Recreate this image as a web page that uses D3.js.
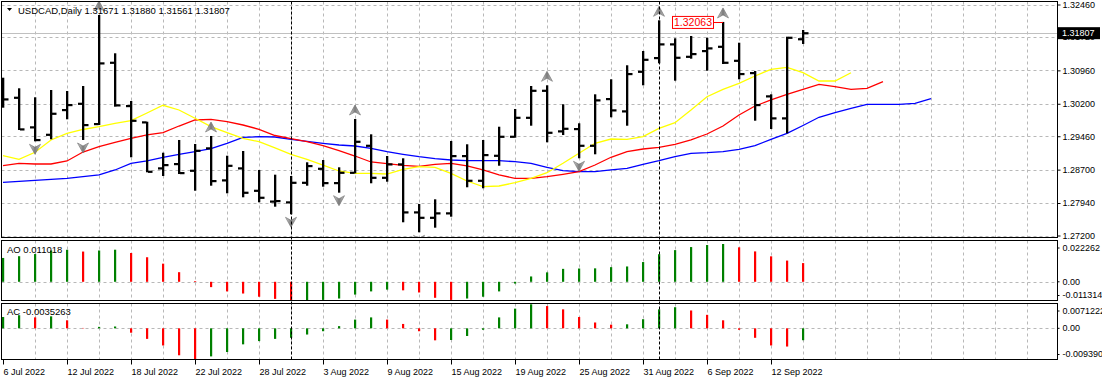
<!DOCTYPE html>
<html><head><meta charset="utf-8">
<script src="https://cdn.jsdelivr.net/npm/d3@7"></script>
<style>
body{margin:0;background:#fff;}
svg{display:block;}
text{font-family:'Liberation Sans',Arial,sans-serif;font-size:9.5px;fill:#000;}
.ax text{font-size:9px;}
</style>
</head><body>
<svg id="c" width="1102" height="381"></svg>
<script>
// ---------- DATA ----------
const symbolTitle = "USDCAD,Daily";
const dates = ["2022-07-06","2022-07-07","2022-07-08","2022-07-11","2022-07-12","2022-07-13","2022-07-14","2022-07-15","2022-07-18","2022-07-19","2022-07-20","2022-07-21","2022-07-22","2022-07-25","2022-07-26","2022-07-27","2022-07-28","2022-07-29","2022-08-01","2022-08-02","2022-08-03","2022-08-04","2022-08-05","2022-08-08","2022-08-09","2022-08-10","2022-08-11","2022-08-12","2022-08-15","2022-08-16","2022-08-17","2022-08-18","2022-08-19","2022-08-22","2022-08-23","2022-08-24","2022-08-25","2022-08-26","2022-08-29","2022-08-30","2022-08-31","2022-09-01","2022-09-02","2022-09-05","2022-09-06","2022-09-07","2022-09-08","2022-09-09","2022-09-12","2022-09-13","2022-09-14"];
const open  = [1.30559,1.30338,1.29664,1.29495,1.30058,1.30201,1.29739,1.31135,1.30149,1.29778,1.28730,1.28828,1.28676,1.29186,1.28457,1.28730,1.28220,1.27974,1.27956,1.28402,1.28721,1.28395,1.28630,1.29245,1.28516,1.28821,1.27728,1.27605,1.27706,1.29010,1.28448,1.29017,1.29450,1.29882,1.30497,1.29573,1.29625,1.29245,1.30308,1.30028,1.30930,1.31242,1.31554,1.31271,1.31401,1.31499,1.31180,1.30900,1.30370,1.29869,1.31671];
const high  = [1.30793,1.30552,1.30347,1.30513,1.30490,1.30604,1.32221,1.31349,1.30263,1.29791,1.29085,1.29375,1.29284,1.29466,1.29017,1.29124,1.28692,1.28585,1.28555,1.28867,1.28919,1.28753,1.29853,1.29504,1.29010,1.28958,1.27917,1.28024,1.29352,1.29277,1.29375,1.29677,1.30081,1.30604,1.30620,1.30188,1.29755,1.30415,1.30757,1.31076,1.31401,1.32100,1.31690,1.31743,1.31704,1.32063,1.31590,1.30946,1.30415,1.31727,1.31880];
const low   = [1.30110,1.29602,1.29345,1.29391,1.29846,1.29375,1.29716,1.30133,1.28981,1.28639,1.28555,1.28600,1.28220,1.28334,1.28161,1.28070,1.27956,1.27856,1.27683,1.28334,1.28311,1.28175,1.28616,1.28389,1.28425,1.27501,1.27273,1.27378,1.27628,1.28298,1.28275,1.28789,1.29427,1.29700,1.29322,1.29488,1.28958,1.29049,1.29892,1.29700,1.30620,1.31121,1.30725,1.31226,1.30953,1.31105,1.30757,1.29814,1.29625,1.29527,1.31561];
const close = [1.30301,1.29618,1.29375,1.29974,1.30172,1.29716,1.31121,1.30165,1.29814,1.28653,1.28805,1.28623,1.29131,1.28441,1.28789,1.28175,1.28061,1.27986,1.28402,1.28783,1.28395,1.28630,1.29336,1.28516,1.28821,1.27728,1.27605,1.27706,1.29010,1.28448,1.29033,1.29450,1.29882,1.30497,1.29541,1.29632,1.29245,1.30279,1.30051,1.30878,1.31203,1.31554,1.31249,1.31333,1.31463,1.31135,1.30878,1.30172,1.29869,1.31704,1.31807];
// Alligator lines (shifted forward past the last bar)
const lips  = [1.29017,1.28935,1.29095,1.29375,1.29527,1.29614,1.29678,1.29755,1.29814,1.29989,1.30165,1.30058,1.29869,1.29678,1.29541,1.29413,1.29336,1.29193,1.29049,1.28935,1.28805,1.28669,1.28616,1.28616,1.28600,1.28707,1.28767,1.28753,1.28616,1.28441,1.28311,1.28327,1.28402,1.28503,1.28630,1.28844,1.29072,1.29300,1.29397,1.29391,1.29450,1.29641,1.29769,1.30058,1.30361,1.30529,1.30666,1.30832,1.30985,1.31030,1.30907,1.30718,1.30718,1.30907];
const teeth = [1.28789,1.28844,1.28828,1.28828,1.28897,1.29101,1.29222,1.29322,1.29413,1.29489,1.29541,1.29693,1.29830,1.29846,1.29791,1.29716,1.29618,1.29477,1.29404,1.29336,1.29245,1.29131,1.29010,1.28874,1.28835,1.28799,1.28776,1.28821,1.28844,1.28783,1.28692,1.28578,1.28503,1.28503,1.28539,1.28594,1.28653,1.28805,1.28981,1.29108,1.29170,1.29208,1.29277,1.29375,1.29511,1.29693,1.29944,1.30149,1.30286,1.30415,1.30529,1.30643,1.30588,1.30529,1.30552,1.30702];
const jaw   = [1.28411,1.28434,1.28457,1.28480,1.28503,1.28539,1.28578,1.28692,1.28844,1.28897,1.28981,1.29049,1.29108,1.29177,1.29300,1.29436,1.29450,1.29443,1.29391,1.29345,1.29300,1.29261,1.29238,1.29186,1.29108,1.29049,1.28994,1.28949,1.28919,1.28903,1.28903,1.28903,1.28881,1.28844,1.28753,1.28676,1.28653,1.28653,1.28692,1.28730,1.28821,1.28903,1.28994,1.29072,1.29085,1.29108,1.29163,1.29245,1.29391,1.29527,1.29705,1.29892,1.29996,1.30096,1.30188,1.30188,1.30188,1.30210,1.30315];
const ao = [0.01404,0.01508,0.01634,0.01844,0.01886,0.01781,0.01844,0.01890,0.01697,0.01446,0.01068,0.00566,0.00042,-0.00314,-0.00566,-0.00691,-0.00880,-0.01006,-0.011314,-0.01089,-0.01068,-0.00985,-0.00754,-0.00566,-0.00461,-0.00503,-0.00629,-0.00943,-0.01068,-0.00985,-0.00880,-0.00566,-0.00105,0.00314,0.00555,0.00762,0.00782,0.00792,0.00863,0.00903,0.01163,0.01625,0.01866,0.02046,0.02166,0.022262,0.02030,0.01790,0.01500,0.01250,0.011018];
const ac = [0.00335,0.00389,0.00324,0.00356,0.00238,0.00011,0.00043,0.00054,-0.00130,-0.00313,-0.00508,-0.00799,-0.00939,-0.00832,-0.00702,-0.00475,-0.00378,-0.00313,-0.00281,-0.00184,-0.00086,0.00065,0.00259,0.00324,0.00259,0.00130,-0.00086,-0.00356,-0.00346,-0.00227,-0.00043,0.00324,0.00583,0.0071222,0.00660,0.00562,0.00335,0.00173,0.00108,0.00119,0.00270,0.00562,0.00626,0.00529,0.00400,0.00238,-0.00043,-0.00281,-0.00508,-0.00540,-0.0035263];
const fractalUp = [6,13,22,34,41,45];
const fractalDown = [2,5,18,21,26,36];
const priceTicks = [1.32460,1.31720,1.30960,1.30200,1.29460,1.28700,1.27940,1.27200];
const aoTicks = [0.022262,0,-0.011314];
const aoTickLabels = ["0.022262","0.00","-0.011314"];
const acTicks = [0.0071222,0,-0.009390];
const acTickLabels = ["0.0071222","0.00","-0.009390"];
const dateTickIdx = [0,4,8,12,16,20,24,28,32,36,40,44,48];
const dateTickLabels = ["6 Jul 2022","12 Jul 2022","18 Jul 2022","22 Jul 2022","28 Jul 2022","3 Aug 2022","9 Aug 2022","15 Aug 2022","19 Aug 2022","25 Aug 2022","31 Aug 2022","6 Sep 2022","12 Sep 2022"];
const markedHighIdx = 45;          // bar carrying the "1.32063" price label
const separatorIdx = [18,41];      // month separators (1 Aug, 1 Sep)

// ---------- LAYOUT ----------
const svg = d3.select('#c');
const L = 1.5, R = 1057.5;
const P = {main:[1.5,237.5], ao:[240.5,300.5], ac:[303.5,359.5]};
const x = d3.scaleLinear().domain([0,50]).range([3,803]);
const y = d3.scaleLinear().domain([1.27200,1.32460]).range([235.5,4.5]);
const yAO = d3.scaleLinear().domain([-0.011314,0.022262]).range([301,244]);
const yAC = d3.scaleLinear().domain([-0.009390,0.0071222]).range([360,304.3]);
const GREEN = '#008000', RED = '#ff0000';

const defs = svg.append('defs');
Object.entries(P).forEach(([k,[t,b]])=>{
  defs.append('clipPath').attr('id','clip-'+k).append('rect')
    .attr('x',L+0.5).attr('y',t+0.5).attr('width',R-L-1).attr('height',b-t-1);
});
const grad = defs.append('linearGradient').attr('id','fg').attr('x1',0).attr('x2',1).attr('y1',0).attr('y2',0);
grad.append('stop').attr('offset','0%').attr('stop-color','#d8d8d8');
grad.append('stop').attr('offset','50%').attr('stop-color','#7a7a7a');
grad.append('stop').attr('offset','100%').attr('stop-color','#c8c8c8');

// grid x positions (every 2 bars)
const gridIdx = d3.range(2, 66, 2).filter(i => x(i) < R - 1);

function panelGrid(key, hLines){
  const [t,b] = P[key];
  const g = svg.append('g').attr('clip-path','url(#clip-'+key+')');
  g.selectAll('line.v').data(gridIdx).join('line')
    .attr('x1',d=>Math.round(x(d))+0.5).attr('x2',d=>Math.round(x(d))+0.5)
    .attr('y1',t).attr('y2',b)
    .attr('stroke','#b8b8b8').attr('stroke-dasharray','3,3');
  g.selectAll('line.h').data(hLines).join('line')
    .attr('x1',L).attr('x2',R)
    .attr('y1',d=>Math.round(d)+0.5).attr('y2',d=>Math.round(d)+0.5)
    .attr('stroke','#b8b8b8').attr('stroke-dasharray','3,3');
  return g;
}
const gMain = panelGrid('main', priceTicks.map(v=>y(v)));
const gAO = panelGrid('ao', [yAO(0)]);
const gAC = panelGrid('ac', [yAC(0)]);

// bid line
gMain.append('line').attr('x1',L).attr('x2',R)
  .attr('y1',Math.round(y(close[50]))+0.5).attr('y2',Math.round(y(close[50]))+0.5)
  .attr('stroke','#c0c0c0');

// month separators
svg.append('g').selectAll('line').data(separatorIdx).join('line')
  .attr('x1',d=>Math.round(x(d))+0.5).attr('x2',d=>Math.round(x(d))+0.5)
  .attr('y1',P.main[0]).attr('y2',P.ac[1])
  .attr('stroke','#000').attr('stroke-dasharray','3,2');

// alligator
const line = d3.line().x((d,i)=>x(i)).y(d=>y(d));
[[jaw,'#0000ff'],[teeth,'#ff0000'],[lips,'#ffff00']].forEach(([arr,col])=>{
  gMain.append('path').datum(arr).attr('d',line)
    .attr('fill','none').attr('stroke',col).attr('stroke-width',1.3);
});

// OHLC bars
const bars = dates.map((d,i)=>({i,o:open[i],h:high[i],l:low[i],c:close[i]}));
const gb = gMain.append('g').attr('fill','#000');
gb.selectAll('rect.v').data(bars).join('rect')
  .attr('x',d=>x(d.i)-1).attr('y',d=>y(d.h)).attr('width',2.3).attr('height',d=>y(d.l)-y(d.h));
gb.selectAll('rect.o').data(bars).join('rect')
  .attr('x',d=>x(d.i)-5).attr('y',d=>y(d.o)-1).attr('width',4.5).attr('height',2.2);
gb.selectAll('rect.c').data(bars).join('rect')
  .attr('x',d=>x(d.i)+1).attr('y',d=>y(d.c)-1).attr('width',4.5).attr('height',2.2);

// fractals
const arrowUp = 'M0,-5 L5.5,5 L0,2 L-5.5,5 Z';
gMain.selectAll('path.fu').data(fractalUp).join('path')
  .attr('d',arrowUp).attr('transform',i=>`translate(${x(i)},${y(high[i])-9})`)
  .attr('fill','url(#fg)').attr('stroke','#6c6c6c').attr('stroke-width',0.6);
gMain.selectAll('path.fd').data(fractalDown).join('path')
  .attr('d',arrowUp).attr('transform',i=>`translate(${x(i)},${y(low[i])+8}) scale(1,-1)`)
  .attr('fill','url(#fg)').attr('stroke','#6c6c6c').attr('stroke-width',0.6);

// high price label
{
  const hx = x(markedHighIdx), hy = y(high[markedHighIdx]);
  const bw = 41, bh = 12, bx = hx - 51;
  gMain.append('line').attr('x1',bx+bw).attr('x2',hx).attr('y1',Math.round(hy)+0.5).attr('y2',Math.round(hy)+0.5).attr('stroke',RED);
  gMain.append('rect').attr('x',bx+0.5).attr('y',hy-5.5).attr('width',bw).attr('height',bh)
    .attr('fill','#fff').attr('stroke',RED);
  gMain.append('text').attr('x',bx+bw/2+0.5).attr('y',hy+0.5).attr('dy','0.35em')
    .attr('text-anchor','middle').style('font-size','10.5px').style('fill',RED)
    .text(high[markedHighIdx].toFixed(5));
}

// header
svg.append('path').attr('d','M7,8 L12,8 L9.5,11 Z').attr('fill','#000');
svg.append('text').attr('x',18).attr('y',14)
  .text(`${symbolTitle}  ${open[50].toFixed(5)} ${high[50].toFixed(5)} ${low[50].toFixed(5)} ${close[50].toFixed(5)}`);

// AO / AC histograms
function hist(g, arr, ys){
  g.selectAll('rect').data(arr).join('rect')
    .attr('x',(d,i)=>x(i)-1).attr('width',2.2)
    .attr('y',d=>Math.min(ys(0),ys(d))).attr('height',d=>Math.abs(ys(d)-ys(0)))
    .attr('fill',(d,i)=> (i===0 || d>arr[i-1]) ? GREEN : RED);
}
hist(gAO, ao, yAO);
hist(gAC, ac, yAC);
svg.append('text').attr('x',7).attr('y',250).attr('dy','0.35em').text('AO ' + ao[ao.length-1]);
svg.append('text').attr('x',7).attr('y',312).attr('dy','0.35em').text('AC ' + ac[ac.length-1]);

// panel borders
Object.values(P).forEach(([t,b])=>{
  svg.append('rect').attr('x',L).attr('y',t).attr('width',R-L).attr('height',b-t)
    .attr('fill','none').attr('stroke','#000');
});

// price axis
const pAxis = svg.append('g').attr('class','ax').attr('transform',`translate(${R},0)`)
  .call(d3.axisRight(y).tickValues(priceTicks).tickFormat(d3.format('.5f')).tickSize(3).tickPadding(2));
pAxis.select('.domain').remove();

// current price box
svg.append('rect').attr('x',1058).attr('y',y(close[50])-6).attr('width',42).attr('height',12).attr('fill','#000');
svg.append('text').attr('class','ax').attr('x',1062).attr('y',y(close[50])).attr('dy','0.35em')
  .style('font-size','9px').style('fill','#fff').text(close[50].toFixed(5));

// AO / AC axes
function subAxis(ys, ticks, labels, key){
  const [t,b] = P[key];
  const g = svg.append('g').attr('class','ax').attr('transform',`translate(${R},0)`)
    .call(d3.axisRight(ys).tickValues(ticks).tickFormat((d,i)=>labels[i]).tickSize(2).tickPadding(3));
  g.select('.domain').remove();
  g.selectAll('.tick').attr('transform',d=>`translate(0,${Math.max(t+7.5, Math.min(b-5, ys(d)))})`);
}
subAxis(yAO, aoTicks, aoTickLabels, 'ao');
subAxis(yAC, acTicks, acTickLabels, 'ac');

// date axis
const dAxis = svg.append('g').attr('class','ax').attr('transform',`translate(0,${P.ac[1]})`)
  .call(d3.axisBottom(x).tickValues(dateTickIdx).tickFormat((d,i)=>dateTickLabels[i]).tickSize(5).tickPadding(3));
dAxis.select('.domain').remove();
dAxis.selectAll('.tick text').attr('text-anchor','start').attr('x',0).attr('y',9).attr('dy','0.71em');
dAxis.selectAll('.tick line').attr('stroke','#000');
</script>
</body></html>
